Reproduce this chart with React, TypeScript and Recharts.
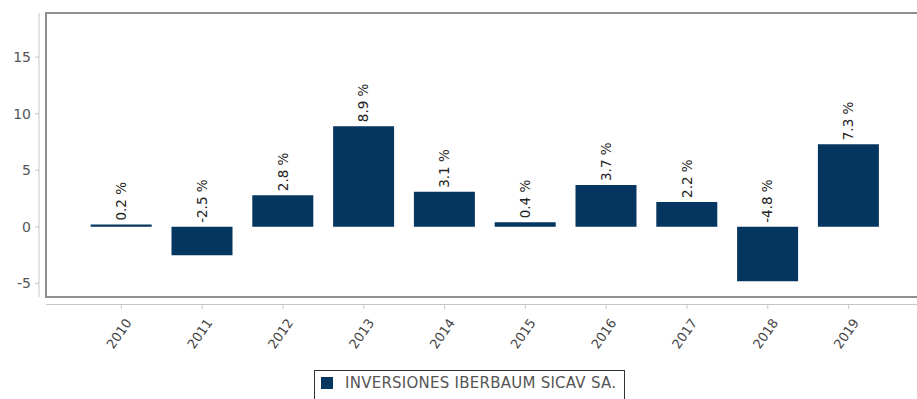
import React from 'react';
import * as R from 'recharts';

const { BarChart, Bar, XAxis, YAxis, LabelList, Legend } = R;

const years = ['2010', '2011', '2012', '2013', '2014', '2015', '2016', '2017', '2018', '2019'];
const returns = [0.2, -2.5, 2.8, 8.9, 3.1, 0.4, 3.7, 2.2, -4.8, 7.3];
const yTicks = [-5, 0, 5, 10, 15];
const seriesName = 'INVERSIONES IBERBAUM SICAV SA.';

const data = years.map((year, i) => ({ year, value: returns[i] }));

const BAR = '#04365F';
const AXIS = '#c6c6c6';
const FONT = '"DejaVu Sans", sans-serif';

// frame around the plot + the detached axis lines
function PlotFrame() {
  const usePlot = (R as any).usePlotArea;
  const area = usePlot ? usePlot() : null;
  if (!area) return null;
  const { x, y, width, height } = area;
  return (
    <g>
      <rect x={x} y={y} width={width} height={height} fill="none" stroke="#8e8e8e" strokeWidth={2} />
      <line x1={x - 7} x2={x - 7} y1={y} y2={y + height} stroke={AXIS} />
      <line x1={x} x2={x + width} y1={y + height + 7.5} y2={y + height + 7.5} stroke={AXIS} />
    </g>
  );
}

const YTick = (props: any) => {
  const { x, y, payload } = props;
  return (
    <g>
      <line x1={x - 11} x2={x - 7} y1={y} y2={y} stroke={AXIS} />
      <text x={x - 15} y={y} dy="0.36em" textAnchor="end" fontSize={14} fill="#555" fontFamily={FONT}>
        {payload.value}
      </text>
    </g>
  );
};

const XTick = (props: any) => {
  const { x, y, payload } = props;
  return (
    <g>
      <line x1={x} x2={x} y1={y + 8} y2={y + 12} stroke={AXIS} />
      <text
        transform={`translate(${x + 7},${y + 23}) rotate(-55)`}
        textAnchor="end"
        dy="0.36em"
        fontSize={13}
        fill="#444"
        fontFamily={FONT}
      >
        {payload.value}
      </text>
    </g>
  );
};

const BarLabel = (props: any) => {
  const { x, y, width, height, value } = props;
  const top = Math.min(y, y + height);
  const cx = x + width / 2;
  return (
    <text
      transform={`translate(${cx},${top - 4}) rotate(-90)`}
      textAnchor="start"
      dy="0.36em"
      fontSize={13.5}
      fill="#222"
      fontFamily={FONT}
    >
      {`${value} %`}
    </text>
  );
};

const LegendBox = () => (
  <div
    style={{
      display: 'inline-flex',
      alignItems: 'flex-start',
      border: '1.5px solid #333',
      height: 32,
      boxSizing: 'border-box',
      padding: '6px 8px 0 6px',
      fontFamily: FONT,
      fontSize: 15,
      color: '#555',
      whiteSpace: 'nowrap',
    }}
  >
    <span style={{ width: 12, height: 12, background: BAR, marginRight: 12, display: 'inline-block' }} />
    <span style={{ lineHeight: '13px', letterSpacing: 0.25 }}>{seriesName}</span>
  </div>
);

export default function App() {
  return (
    <div style={{ position: 'absolute', left: 0, top: 0 }}>
      <BarChart
        width={917}
        height={399}
        data={data}
        margin={{ top: 13, right: -3, bottom: -3, left: 0 }}
        barCategoryGap="12%"
      >
        <PlotFrame />
        <XAxis
          dataKey="year"
          height={73}
          axisLine={false}
          tickLine={false}
          tickSize={0}
          tickMargin={0}
          interval={0}
          padding={{ left: 35, right: 31 }}
          tick={<XTick />}
        />
        <YAxis
          width={46}
          domain={[-6.2, 18.9]}
          ticks={yTicks}
          allowDataOverflow
          axisLine={false}
          tickLine={false}
          tickSize={0}
          tickMargin={0}
          tick={<YTick />}
        />
        <Legend
          verticalAlign="bottom"
          wrapperStyle={{ left: 314, width: 340, textAlign: 'left' }}
          content={() => <LegendBox />}
        />
        <Bar dataKey="value" name={seriesName} fill={BAR} isAnimationActive={false}>
          <LabelList dataKey="value" content={<BarLabel />} />
        </Bar>
      </BarChart>
    </div>
  );
}
